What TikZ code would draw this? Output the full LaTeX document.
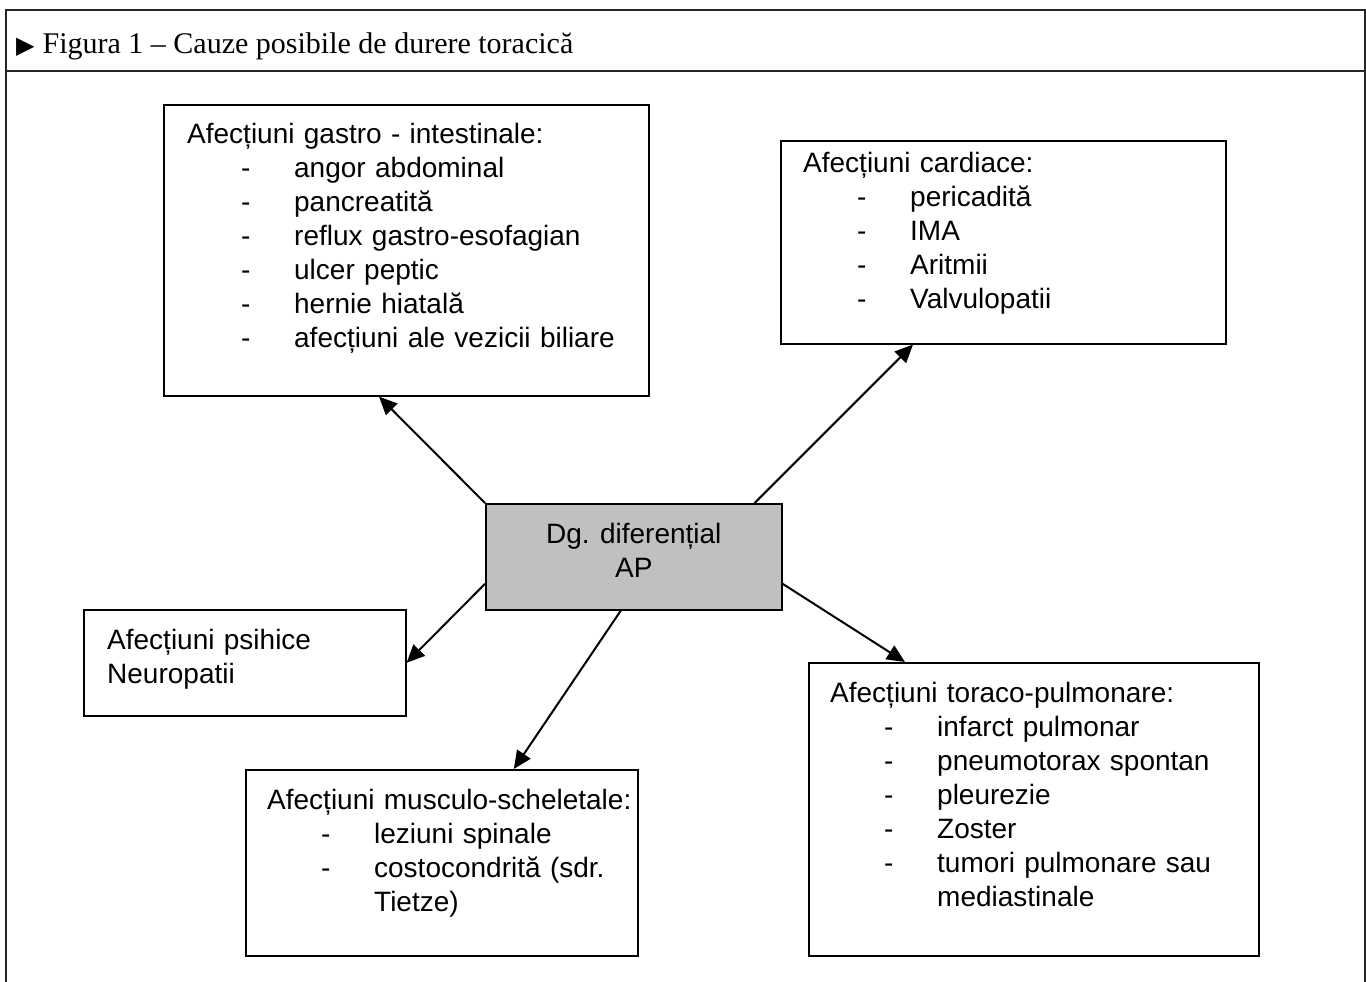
\documentclass[tikz,border=0pt]{standalone}
\usepackage{fontspec}
\setmainfont{Liberation Sans}
\newfontfamily\headfont{Liberation Serif}
\newfontfamily\symfont{DejaVu Sans}
\usetikzlibrary{arrows.meta}

\newcommand{\dl}[1]{\hspace*{54pt}\makebox[53pt][l]{-}#1}
\newcommand{\cont}[1]{\hspace*{107pt}#1}

\begin{document}
\begin{tikzpicture}[x=1pt, y=-1pt, >={Triangle[length=18pt,width=16pt]},
  frame/.style={line width=2.4pt, draw=black!85},
  box/.style={draw, line width=1.6pt, inner sep=0pt, anchor=north west},
  txt/.style={anchor=base west, inner sep=0pt, text width=450pt, align=left,
    font=\fontsize{28}{34}\selectfont},
  link/.style={->, line width=2pt}]

\def\W{1366}
\def\H{982}

\useasboundingbox (0,0) rectangle (\W,\H);

\draw[frame] (6,\H) -- (6,10) -- (1365,10) -- (1365,\H);
\draw[frame] (6,71) -- (1365,71);

\node[anchor=base west, inner sep=0pt, font=\headfont\fontsize{30}{36}\selectfont] (title) at (16,54)
  {{\symfont\fontsize{24}{28}\selectfont ▶}\hspace{8pt}Figura 1 – Cauze posibile de durere toracică};

\node[box, minimum width=485pt, minimum height=291pt] (gastro) at (163,104) {};
\node[box, minimum width=445pt, minimum height=203pt] (cardiac) at (780,140) {};
\node[box, fill={rgb,255:red,192;green,192;blue,192}, minimum width=296pt, minimum height=106pt] (dg) at (485,503) {};
\node[box, minimum width=322pt, minimum height=106pt] (psihice) at (83,609) {};
\node[box, minimum width=392pt, minimum height=186pt] (musculo) at (245,769) {};
\node[box, minimum width=450pt, minimum height=293pt] (toraco) at (808,662) {};

\node[align=center, inner sep=0pt, font=\fontsize{28}{34}\selectfont] (tdg) at ([yshift=6pt]dg.center)
  {Dg. diferențial\\AP};

\node[txt] (tgastro) at ([xshift=24pt, yshift=-39pt]gastro.north west)
  {Afecțiuni gastro - intestinale:\\
   \dl{angor abdominal}\\
   \dl{pancreatită}\\
   \dl{reflux gastro-esofagian}\\
   \dl{ulcer peptic}\\
   \dl{hernie hiatală}\\
   \dl{afecțiuni ale vezicii biliare}};

\node[txt] (tcardiac) at ([xshift=23pt, yshift=-32pt]cardiac.north west)
  {Afecțiuni cardiace:\\
   \dl{pericadită}\\
   \dl{IMA}\\
   \dl{Aritmii}\\
   \dl{Valvulopatii}};

\node[txt] (tpsihice) at ([xshift=24pt, yshift=-40pt]psihice.north west)
  {Afecțiuni psihice\\
   Neuropatii};

\node[txt] (tmusculo) at ([xshift=22pt, yshift=-40pt]musculo.north west)
  {Afecțiuni musculo-scheletale:\\
   \dl{leziuni spinale}\\
   \dl{costocondrită (sdr.}\\
   \cont{Tietze)}};

\node[txt] (ttoraco) at ([xshift=22pt, yshift=-40pt]toraco.north west)
  {Afecțiuni toraco-pulmonare:\\
   \dl{infarct pulmonar}\\
   \dl{pneumotorax spontan}\\
   \dl{pleurezie}\\
   \dl{Zoster}\\
   \dl{tumori pulmonare sau}\\
   \cont{mediastinale}};

\draw[link] (dg.north west) -- ([xshift=216pt]gastro.south west);
\draw[link] ([xshift=-28pt]dg.north east) -- ([xshift=133pt]cardiac.south west);
\draw[link] ([yshift=-27pt]dg.east) -- ([xshift=97pt]toraco.north west);
\draw[link] ([yshift=-27pt]dg.west) -- (psihice.east);
\draw[link] ([xshift=-13pt]dg.south) -- ([xshift=72pt]musculo.north);

\end{tikzpicture}
\end{document}
